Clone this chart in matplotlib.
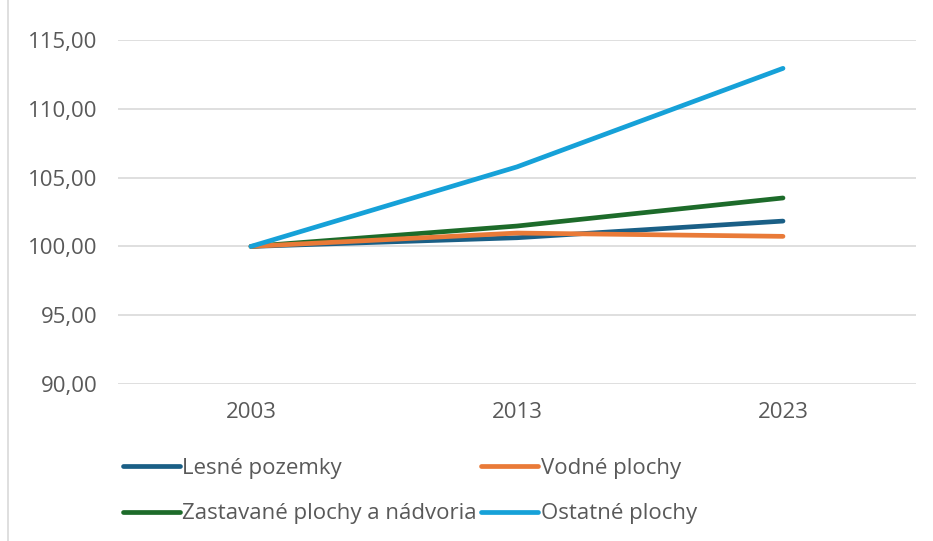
import matplotlib
matplotlib.use("Agg")
import matplotlib.pyplot as plt
from matplotlib.lines import Line2D

years = ["2003", "2013", "2023"]
lesne = [100.0, 100.63, 101.84]
vodne = [100.0, 100.97, 100.73]
zastavane = [100.0, 101.48, 103.52]
ostatne = [100.0, 105.78, 112.94]

series = [
    ("Lesné pozemky", lesne, "#1a5f86"),
    ("Vodné plochy", vodne, "#e97a38"),
    ("Zastavané plochy a nádvoria", zastavane, "#1d6b2a"),
    ("Ostatné plochy", ostatne, "#16a1d8"),
]
yticks = [90, 95, 100, 105, 110, 115]

plt.rcParams['font.family'] = ['Open Sans', 'DejaVu Sans']
text_color = "#595959"
fs = 16

fig = plt.figure(figsize=(9.33, 5.41), dpi=100)
ax = fig.add_axes([118/933, 1-384/541, (916-118)/933, (384-40)/541])

x = list(range(len(years)))
for i in [0, 2, 1, 3]:
    name, vals, col = series[i]
    ax.plot(x, vals, color=col, lw=3.4, solid_capstyle='round', label=name, zorder=3)

ax.set_xlim(-0.5, 2.5)
ax.set_ylim(90, 115)
ax.set_xticks(x)
ax.set_xticklabels(years)
ax.set_yticks(yticks)
ax.set_yticklabels([f"{v:.2f}".replace(".", ",") for v in yticks])
ax.tick_params(length=0, colors=text_color, labelsize=fs)
ax.tick_params(axis='y', pad=15)
ax.tick_params(axis='x', pad=13)
for s in ax.spines.values():
    s.set_visible(False)
ax.grid(axis='y', color="#d9d9d9", lw=1.2)
ax.set_axisbelow(True)

handles = [Line2D([0], [0], color=c, lw=3.4, solid_capstyle='round') for _, _, c in series]
labels = [n for n, _, _ in series]
h = [handles[0], handles[2], handles[1], handles[3]]
l = [labels[0], labels[2], labels[1], labels[3]]
leg = fig.legend(h, l, ncol=2, loc='upper left', bbox_to_anchor=(123/933, 1-458/541),
                 frameon=False, fontsize=fs, handlelength=2.55, handletextpad=0.12,
                 columnspacing=0.2, labelspacing=1.1, borderaxespad=0, borderpad=0)
for t in leg.get_texts():
    t.set_color(text_color)

fig.add_artist(Line2D([8/933, 8/933], [0, 1], color="#d9d9d9", lw=1.2, transform=fig.transFigure))

fig.savefig("out.png", dpi=100)
